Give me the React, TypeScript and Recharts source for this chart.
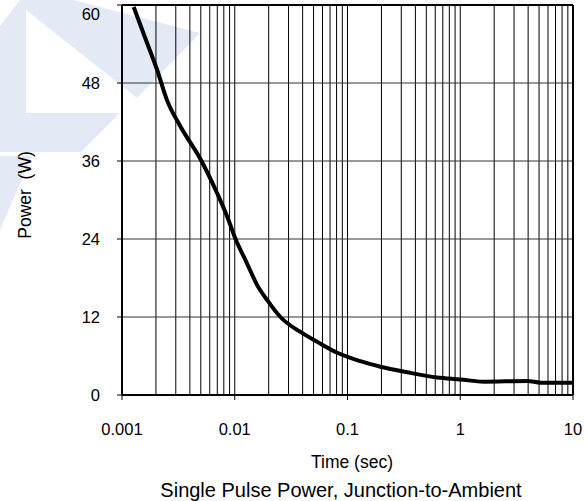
import React from 'react';
import { LineChart, Line, XAxis, YAxis, ReferenceLine, Customized } from 'recharts';

// Time (sec) and single pulse power (W)
const timeSec = [0.00127, 0.0016, 0.00205, 0.0025, 0.0033, 0.005, 0.007, 0.0086, 0.0101, 0.0128, 0.0158, 0.0194, 0.0254, 0.0382, 0.0537, 0.081, 0.13, 0.196, 0.338, 0.624, 1.0, 1.62, 3.93, 5.15, 10];
const powerW = [59.7, 55.0, 50.0, 45.4, 41.3, 36.2, 31.0, 27.4, 24.1, 20.3, 16.9, 14.6, 12.0, 9.7, 8.2, 6.5, 5.2, 4.35, 3.5, 2.7, 2.4, 2.05, 2.15, 1.9, 1.9];

const xTicks = [0.001, 0.01, 0.1, 1, 10];
const yTicks = [0, 12, 24, 36, 48, 60];
const yGrid = [12, 24, 36, 48];
const decades = [0.001, 0.01, 0.1, 1];
const multipliers = [1, 2, 3, 4, 5, 6, 7, 8, 9];
const xGrid = decades
  .flatMap((d) => multipliers.map((m) => Number((d * m).toPrecision(3))))
  .filter((v) => v > 0.001);

const xLabel = 'Time (sec)';
const yLabel = 'Power\u00a0 (W)';
const title = 'Single Pulse Power, Junction-to-Ambient';

const data = timeSec.map((t, i) => ({ t, p: powerW[i] }));

const FONT = '"Liberation Sans", Arial, Helvetica, sans-serif';
const WM = '#e3e9f5';

const Texts = () => (
  <g fontFamily={FONT} fill="#000">
    <text x={352} y={462} fontSize={17.5} textAnchor="middle" dominantBaseline="central">{xLabel}</text>
    <text x={341} y={490} fontSize={20} textAnchor="middle" dominantBaseline="central">{title}</text>
    <text x={25} y={195} fontSize={17.5} textAnchor="middle" dominantBaseline="central" transform="rotate(-90 25 195)">{yLabel}</text>
  </g>
);

const YTick = (props: any) => {
  const { x, y, payload } = props;
  const yy = payload.value === 60 ? y + 9 : y;
  return (
    <text x={x} y={yy} dy="0.355em" textAnchor="end" fill="#000" fontSize={16.5} fontFamily={FONT}>
      {payload.value}
    </text>
  );
};

export default function App() {
  return (
    <div style={{ position: 'absolute', left: 0, top: 0, width: 588, height: 501, background: '#fff' }}>
      <svg width={588} height={501} style={{ position: 'absolute', left: 0, top: 0 }}>
        <polygon fill={WM} points="0,26 20,0 73,0 200,33 137,98 26,10 26,113 120,113 81,152 0,152" />
        <polygon fill={WM} points="0,156 32,156 0,230" />
      </svg>
      <div style={{ position: 'absolute', left: 0, top: 0 }}>
        <LineChart width={588} height={501} data={data} margin={{ top: 5, right: 15, bottom: 0, left: 0 }}>
          <XAxis
            dataKey="t"
            type="number"
            scale="log"
            domain={[0.001, 10]}
            ticks={xTicks}
            interval={0}
            allowDataOverflow
            height={106}
            tickSize={5}
            tickMargin={23}
            axisLine={{ stroke: '#000', strokeWidth: 2 }}
            tickLine={{ stroke: '#000', strokeWidth: 1 }}
            tick={{ fill: '#000', fontSize: 16.5, fontFamily: FONT }}
            tickFormatter={(v) => String(v)}
          />
          <YAxis
            type="number"
            domain={[0, 60]}
            ticks={yTicks}
            interval={0}
            width={122}
            tickSize={5}
            tickMargin={17}
            axisLine={{ stroke: '#000', strokeWidth: 2 }}
            tickLine={{ stroke: '#000', strokeWidth: 1 }}
            tick={<YTick />}
          />
          {xGrid.map((v) => (
            <ReferenceLine key={'x' + v} x={v} stroke="#000" strokeWidth={1} />
          ))}
          {yGrid.map((v) => (
            <ReferenceLine key={'y' + v} y={v} stroke="#333" strokeWidth={1} />
          ))}
          <ReferenceLine y={60} stroke="#000" strokeWidth={2} />
          <ReferenceLine x={10} stroke="#000" strokeWidth={2} />
          <Line
            dataKey="p"
            type="monotone"
            stroke="#000"
            strokeWidth={4}
            dot={false}
            activeDot={false}
            isAnimationActive={false}
          />
          <Customized component={Texts} />
        </LineChart>
      </div>
    </div>
  );
}
